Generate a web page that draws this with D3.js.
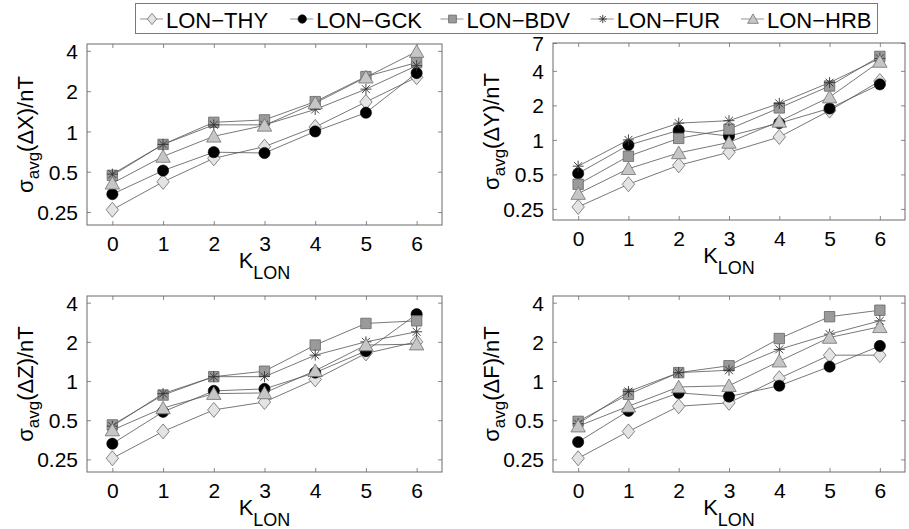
<!DOCTYPE html>
<html>
<head>
<meta charset="utf-8">
<script src="https://cdn.jsdelivr.net/npm/d3@7"></script>
<style>
  html, body { margin: 0; padding: 0; background: #fff; }
  svg { display: block; font-family: "Liberation Sans", Arial, Helvetica, sans-serif; }
</style>
</head>
<body>
<svg id="chart" width="909" height="529"></svg>
<script>
// ---------------- data ----------------
const kLon = [0, 1, 2, 3, 4, 5, 6];
const stations = ["LON\u2212THY", "LON\u2212GCK", "LON\u2212BDV", "LON\u2212FUR", "LON\u2212HRB"];
const markerTypes = ["diamond", "circle", "square", "asterisk", "triangle"];

// sigma_avg(dX) / nT  (rows: THY, GCK, BDV, FUR, HRB)
const sigmaX = [
  [0.26, 0.42, 0.63, 0.77, 1.08, 1.66, 2.54],
  [0.34, 0.51, 0.70, 0.69, 1.00, 1.38, 2.73],
  [0.47, 0.80, 1.17, 1.22, 1.67, 2.57, 3.27],
  [0.48, 0.80, 1.12, 1.12, 1.46, 2.07, 3.10],
  [0.41, 0.65, 0.92, 1.11, 1.63, 2.54, 3.95]
];
// sigma_avg(dY) / nT
const sigmaY = [
  [0.26, 0.41, 0.60, 0.78, 1.06, 1.80, 3.26],
  [0.51, 0.90, 1.21, 1.08, 1.40, 1.88, 3.05],
  [0.41, 0.72, 1.03, 1.24, 1.90, 2.95, 5.35],
  [0.59, 1.00, 1.40, 1.47, 2.08, 3.16, 5.14],
  [0.34, 0.56, 0.77, 0.95, 1.45, 2.36, 4.83]
];
// sigma_avg(dZ) / nT
const sigmaZ = [
  [0.255, 0.41, 0.60, 0.69, 1.03, 1.63, 2.00],
  [0.33, 0.58, 0.84, 0.87, 1.16, 1.70, 3.26],
  [0.46, 0.78, 1.08, 1.19, 1.89, 2.77, 2.90],
  [0.45, 0.80, 1.08, 1.08, 1.58, 2.00, 2.39],
  [0.42, 0.62, 0.80, 0.81, 1.20, 1.89, 1.92]
];
// sigma_avg(dF) / nT
const sigmaF = [
  [0.255, 0.41, 0.64, 0.68, 1.05, 1.58, 1.58],
  [0.34, 0.59, 0.81, 0.76, 0.92, 1.29, 1.86],
  [0.49, 0.79, 1.16, 1.31, 2.12, 3.12, 3.50],
  [0.47, 0.83, 1.16, 1.21, 1.75, 2.29, 2.90],
  [0.45, 0.64, 0.90, 0.92, 1.42, 2.16, 2.61]
];

const yTicksA = [0.25, 0.5, 1, 2, 4];
const yTicksB = [0.25, 0.5, 1, 2, 4, 7];
const xTicks = [0, 1, 2, 3, 4, 5, 6];

// ---------------- layout ----------------
const panels = [
  { comp: "X", data: sigmaX, ticks: yTicksA, dom: [0.2, 4.5], x0: 87,  x1: 442, y0: 44,  y1: 225 },
  { comp: "Y", data: sigmaY, ticks: yTicksB, dom: [0.2, 7],   x0: 553, x1: 905, y0: 43,  y1: 220 },
  { comp: "Z", data: sigmaZ, ticks: yTicksA, dom: [0.2, 4.5], x0: 87,  x1: 442, y0: 296, y1: 472 },
  { comp: "F", data: sigmaF, ticks: yTicksA, dom: [0.2, 4.5], x0: 553, x1: 905, y0: 296, y1: 472 }
];

const styles = {
  diamond:  { fill: "#e4e4e4", stroke: "#6a6a6a" },
  circle:   { fill: "#000000", stroke: "#000000" },
  square:   { fill: "#9a9a9a", stroke: "#666666" },
  asterisk: { fill: "none",    stroke: "#333333" },
  triangle: { fill: "#c6c6c6", stroke: "#707070" }
};

function markerPath(type, s) {
  // s: scale factor (1 = plot size)
  switch (type) {
    case "diamond": {
      const w = 6.2 * s, h = 7.5 * s;
      return `M0,${-h}L${w},0L0,${h}L${-w},0Z`;
    }
    case "square": {
      const a = 5.2 * s;
      return `M${-a},${-a}H${a}V${a}H${-a}Z`;
    }
    case "triangle": {
      const w = 7.2 * s, h = 6.8 * s;
      return `M0,${-h}L${w},${h * 0.85}L${-w},${h * 0.85}Z`;
    }
    case "asterisk": {
      const a = 5.5 * s, d = a * 0.72;
      return `M${-a},0H${a}M0,${-a}V${a}M${-d},${-d}L${d},${d}M${-d},${d}L${d},${-d}`;
    }
  }
  return "";
}

function drawMarker(g, type, x, y, s) {
  const st = styles[type];
  if (type === "circle") {
    g.append("circle").attr("cx", x).attr("cy", y).attr("r", 5.6 * s)
      .attr("fill", st.fill).attr("stroke", st.stroke).attr("stroke-width", 0.6);
  } else {
    g.append("path").attr("d", markerPath(type, s))
      .attr("transform", `translate(${x},${y})`)
      .attr("fill", st.fill).attr("stroke", st.stroke)
      .attr("stroke-width", type === "asterisk" ? 0.9 : 0.8);
  }
}

const svg = d3.select("#chart");
const boxColor = "#6b6b6b";

panels.forEach(p => {
  const x = d3.scaleLinear().domain([-0.5, 6.5]).range([p.x0, p.x1]);
  const y = d3.scaleLog().domain(p.dom).range([p.y1, p.y0]);
  const g = svg.append("g");

  // axes (bottom/left with labels; top/right mirrored ticks)
  const fmt = d => String(d);
  const axB = g.append("g").attr("transform", `translate(0,${p.y1})`)
    .call(d3.axisBottom(x).tickValues(xTicks).tickFormat(fmt).tickSizeInner(-4).tickSizeOuter(0).tickPadding(8));
  const axT = g.append("g").attr("transform", `translate(0,${p.y0})`)
    .call(d3.axisTop(x).tickValues(xTicks).tickFormat("").tickSizeInner(-4).tickSizeOuter(0));
  const axL = g.append("g").attr("transform", `translate(${p.x0},0)`)
    .call(d3.axisLeft(y).tickValues(p.ticks).tickFormat(fmt).tickSizeInner(-4).tickSizeOuter(0).tickPadding(9));
  const axR = g.append("g").attr("transform", `translate(${p.x1},0)`)
    .call(d3.axisRight(y).tickValues(p.ticks).tickFormat("").tickSizeInner(-4).tickSizeOuter(0));
  [axB, axT, axL, axR].forEach(a => {
    a.select(".domain").remove();
    a.selectAll(".tick line").attr("stroke", boxColor).attr("stroke-width", 0.8);
    a.selectAll(".tick text").attr("fill", "#000").style("font-size", "21px")
      .style("font-family", "'Liberation Sans', Arial, Helvetica, sans-serif");
  });
  axB.selectAll(".tick text").attr("dy", "0.85em");
  axL.selectAll(".tick text").attr("dy", "0.36em");

  // box
  g.append("rect").attr("x", p.x0).attr("y", p.y0)
    .attr("width", p.x1 - p.x0).attr("height", p.y1 - p.y0)
    .attr("fill", "none").attr("stroke", boxColor).attr("stroke-width", 1);

  // series
  const line = d3.line().x((d, i) => x(kLon[i])).y(d => y(d));
  p.data.forEach((vals, si) => {
    const sg = g.append("g");
    sg.append("path").attr("d", line(vals)).attr("fill", "none")
      .attr("stroke", "#555").attr("stroke-width", 0.8);
    vals.forEach((v, i) => drawMarker(sg, markerTypes[si], x(kLon[i]), y(v), 1));
  });

  // y label
  const cy = (p.y0 + p.y1) / 2;
  const yl = g.append("text")
    .attr("transform", `translate(${p.x0 - 54},${cy}) rotate(-90)`)
    .attr("text-anchor", "middle").style("font-size", "22px").attr("fill", "#000");
  yl.append("tspan").text("\u03c3");
  yl.append("tspan").text("avg").style("font-size", "17px").attr("dy", 6);
  yl.append("tspan").text(`(\u0394${p.comp})/nT`).attr("dy", -6);

  // x label
  const xl = g.append("text")
    .attr("x", (p.x0 + p.x1) / 2).attr("y", p.y1 + 43)
    .attr("text-anchor", "middle").style("font-size", "22px").attr("fill", "#000");
  xl.append("tspan").text("K");
  xl.append("tspan").text("LON").style("font-size", "18px").attr("dy", 11);
});

// ---------------- legend ----------------
const lg = svg.append("g");
lg.append("rect").attr("x", 135.5).attr("y", 3.5).attr("width", 742).attr("height", 30)
  .attr("fill", "#fff").attr("stroke", "#7a7a7a").attr("stroke-width", 1);
const legX = d3.scalePoint().domain(stations).range([152, 753]);
stations.forEach((name, i) => {
  const cx = legX(name);
  lg.append("line").attr("x1", cx - 12).attr("x2", cx + 11).attr("y1", 19).attr("y2", 19)
    .attr("stroke", "#777").attr("stroke-width", 0.8);
  drawMarker(lg, markerTypes[i], cx, 19, 0.75);
  lg.append("text").attr("x", cx + 14).attr("y", 28).text(name)
    .style("font-size", "22px").attr("fill", "#000");
});
</script>
</body>
</html>
